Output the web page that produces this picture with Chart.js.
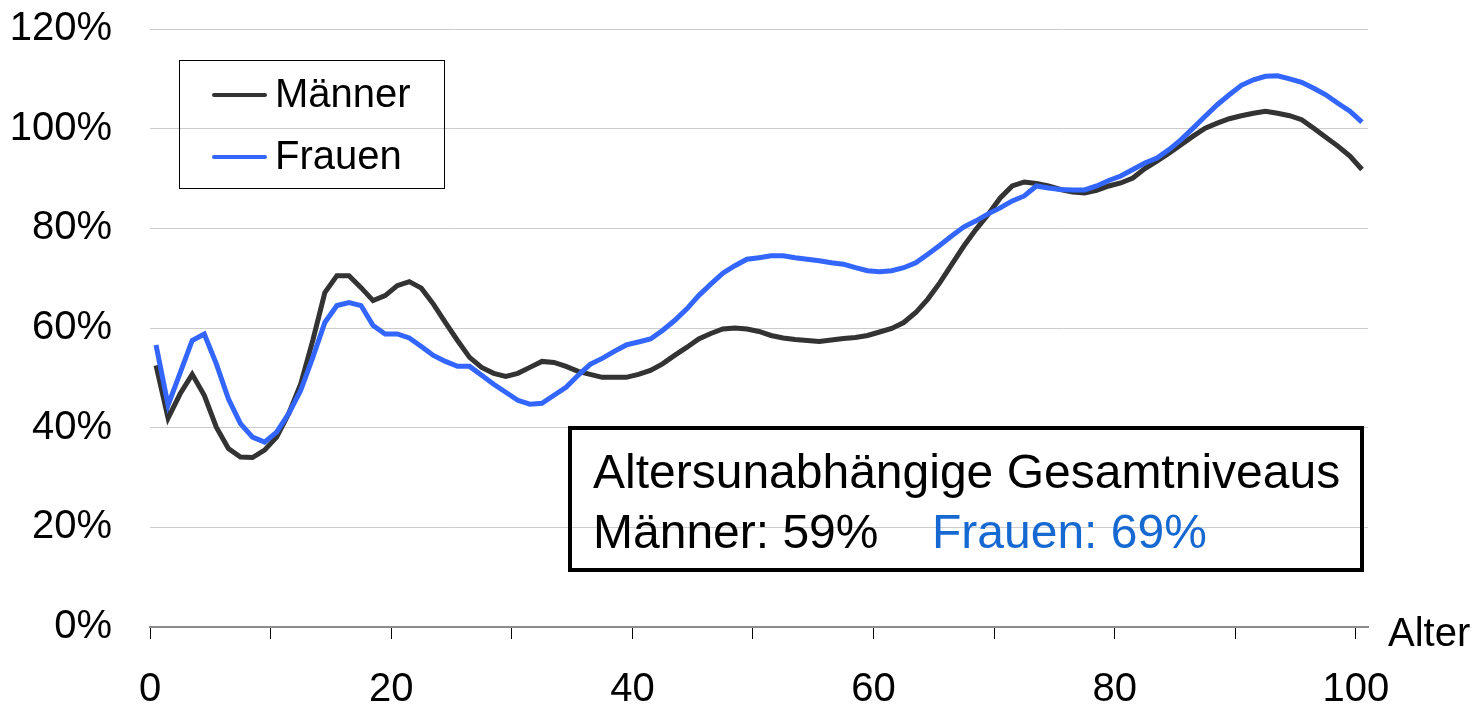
<!DOCTYPE html>
<html>
<head>
<meta charset="utf-8">
<script src="https://cdn.jsdelivr.net/npm/chart.js@4.4.1/dist/chart.umd.min.js"></script>
<style>
  html, body { margin: 0; padding: 0; background: #fff; }
  #wrap { width: 1476px; height: 712px; }
</style>
</head>
<body>
<div id="wrap"><canvas id="chart" width="1476" height="712"></canvas></div>
<script>
// Alter 0..100
const ages = [0, 1, 2, 3, 4, 5, 6, 7, 8, 9, 10, 11, 12, 13, 14, 15, 16, 17, 18, 19,
  20, 21, 22, 23, 24, 25, 26, 27, 28, 29, 30, 31, 32, 33, 34, 35, 36, 37, 38, 39,
  40, 41, 42, 43, 44, 45, 46, 47, 48, 49, 50, 51, 52, 53, 54, 55, 56, 57, 58, 59,
  60, 61, 62, 63, 64, 65, 66, 67, 68, 69, 70, 71, 72, 73, 74, 75, 76, 77, 78, 79,
  80, 81, 82, 83, 84, 85, 86, 87, 88, 89, 90, 91, 92, 93, 94, 95, 96, 97, 98, 99, 100];

// values in percent
const maenner = [52.5, 41.9, 46.8, 50.7, 46.5, 40.1, 35.8, 34.1, 34.0, 35.5,
  38.1, 42.8, 48.8, 57.5, 67.1, 70.5, 70.5, 68.1, 65.5, 66.5,
  68.5, 69.3, 68.0, 64.8, 61.1, 57.5, 54.1, 52.1, 50.9, 50.3,
  50.9, 52.1, 53.3, 53.1, 52.3, 51.3, 50.7, 50.1, 50.1, 50.1,
  50.7, 51.5, 52.8, 54.5, 56.1, 57.8, 58.9, 59.8, 60.0, 59.8,
  59.3, 58.5, 58.0, 57.7, 57.5, 57.3, 57.6, 57.9, 58.1, 58.5,
  59.2, 59.9, 61.1, 63.1, 65.8, 69.1, 72.8, 76.5, 79.8, 82.8,
  86.1, 88.5, 89.3, 89.0, 88.5, 87.8, 87.3, 87.1, 87.6, 88.5,
  89.1, 90.1, 92.0, 93.5, 95.1, 96.8, 98.5, 100.1, 101.1, 102.0,
  102.6, 103.1, 103.5, 103.1, 102.6, 101.8, 100.1, 98.3, 96.5, 94.5, 91.8];

const frauen = [56.6, 44.5, 51.0, 57.5, 58.8, 52.8, 45.8, 40.8, 38.1, 37.1,
  39.1, 42.8, 47.5, 54.1, 61.1, 64.5, 65.1, 64.5, 60.5, 58.8,
  58.8, 58.0, 56.3, 54.5, 53.3, 52.3, 52.3, 50.5, 48.7, 47.1,
  45.5, 44.7, 44.9, 46.5, 48.1, 50.5, 52.7, 53.9, 55.3, 56.6,
  57.2, 57.8, 59.5, 61.5, 63.8, 66.5, 68.8, 71.0, 72.5, 73.8,
  74.1, 74.5, 74.5, 74.1, 73.8, 73.5, 73.1, 72.8, 72.1, 71.5,
  71.3, 71.5, 72.1, 73.1, 74.8, 76.6, 78.5, 80.3, 81.5, 82.9,
  84.1, 85.5, 86.5, 88.5, 88.1, 87.8, 87.7, 87.7, 88.5, 89.6,
  90.5, 91.8, 93.1, 94.1, 95.8, 97.8, 100.1, 102.5, 104.8, 106.8,
  108.7, 109.8, 110.5, 110.6, 110.0, 109.3, 108.1, 106.8, 105.1, 103.5, 101.3];

const seriesNames = ['Männer', 'Frauen'];
const boxTitle = 'Altersunabhängige Gesamtniveaus';
const boxMen = 'Männer: 59%';
const boxWomen = 'Frauen: 69%';
const axisTitle = 'Alter';

const DARK = '#333333';
const BLUE = '#3366ff';
const FONT = "'Liberation Sans', Arial, sans-serif";

// legend box, annotation box and "Alter" label
const overlay = {
  id: 'overlay',
  afterDraw(chart) {
    const ctx = chart.ctx;
    const a = chart.chartArea;
    ctx.save();

    // legend
    const lx = a.left + 29, ly = a.top + 31;
    ctx.strokeStyle = '#000';
    ctx.lineWidth = 1;
    ctx.strokeRect(lx + 0.5, ly + 0.5, 265, 128);
    ctx.font = '40px ' + FONT;
    ctx.textBaseline = 'middle';
    ctx.textAlign = 'left';
    [[DARK, seriesNames[0], 35], [BLUE, seriesNames[1], 97]].forEach(([c, t, dy]) => {
      ctx.strokeStyle = c;
      ctx.lineWidth = 4;
      ctx.lineCap = 'round';
      ctx.beginPath();
      ctx.moveTo(lx + 35, ly + dy);
      ctx.lineTo(lx + 86, ly + dy);
      ctx.stroke();
      ctx.fillStyle = '#000';
      ctx.fillText(t, lx + 96, ly + dy + 1);
    });

    // annotation box
    const bx = a.left + 420, by = a.top + 399;
    ctx.strokeStyle = '#000';
    ctx.lineWidth = 4;
    ctx.strokeRect(bx, by, 792, 142);
    ctx.font = '48px ' + FONT;
    ctx.fillStyle = '#000';
    ctx.textBaseline = 'alphabetic';
    ctx.fillText(boxTitle, bx + 23, by + 60);
    ctx.fillText(boxMen, bx + 23, by + 120);
    ctx.fillStyle = '#1769d2';
    ctx.fillText(boxWomen, bx + 362, by + 120);

    // axis title
    ctx.font = '40px ' + FONT;
    ctx.fillStyle = '#000';
    ctx.textBaseline = 'middle';
    ctx.fillText(axisTitle, a.right + 20, a.bottom + 8);
    ctx.restore();
  }
};

new Chart(document.getElementById('chart'), {
  type: 'line',
  data: {
    labels: ages,
    datasets: [
      { label: seriesNames[0], data: maenner, borderColor: DARK, borderWidth: 5, order: 1 },
      { label: seriesNames[1], data: frauen, borderColor: BLUE, borderWidth: 5, order: 0 }
    ]
  },
  options: {
    responsive: false,
    animation: false,
    events: [],
    elements: { point: { radius: 0 }, line: { tension: 0 } },
    layout: { padding: { top: 0, right: 108, bottom: 0, left: 0 } },
    plugins: { legend: { display: false }, tooltip: { enabled: false } },
    scales: {
      x: {
        type: 'category',
        offset: true,
        afterFit: s => { s.height = 85; },
        grid: {
          offset: true,
          drawOnChartArea: false,
          drawTicks: true,
          tickLength: 12,
          tickWidth: 1,
          tickColor: c => (c.index <= 100 && c.index % 10 === 0) ? '#000' : 'rgba(0,0,0,0)'
        },
        border: { display: true, color: '#8c8c8c', width: 2 },
        ticks: {
          autoSkip: false,
          maxRotation: 0,
          padding: 27,
          labelOffset: -6,
          color: '#000',
          font: { family: FONT, size: 40 },
          callback: (v, i) => ages[i] % 20 === 0 ? String(ages[i]) : ''
        }
      },
      y: {
        min: 0,
        max: 120,
        afterFit: s => { s.width = 150; },
        grid: { color: '#cccccc', lineWidth: 1, drawTicks: true, tickLength: 33, tickColor: 'rgba(0,0,0,0)' },
        border: { display: false },
        ticks: {
          stepSize: 20,
          padding: 5,
          color: '#000',
          font: { family: FONT, size: 40 },
          callback: v => v + '%'
        }
      }
    }
  },
  plugins: [overlay]
});
</script>
</body>
</html>
